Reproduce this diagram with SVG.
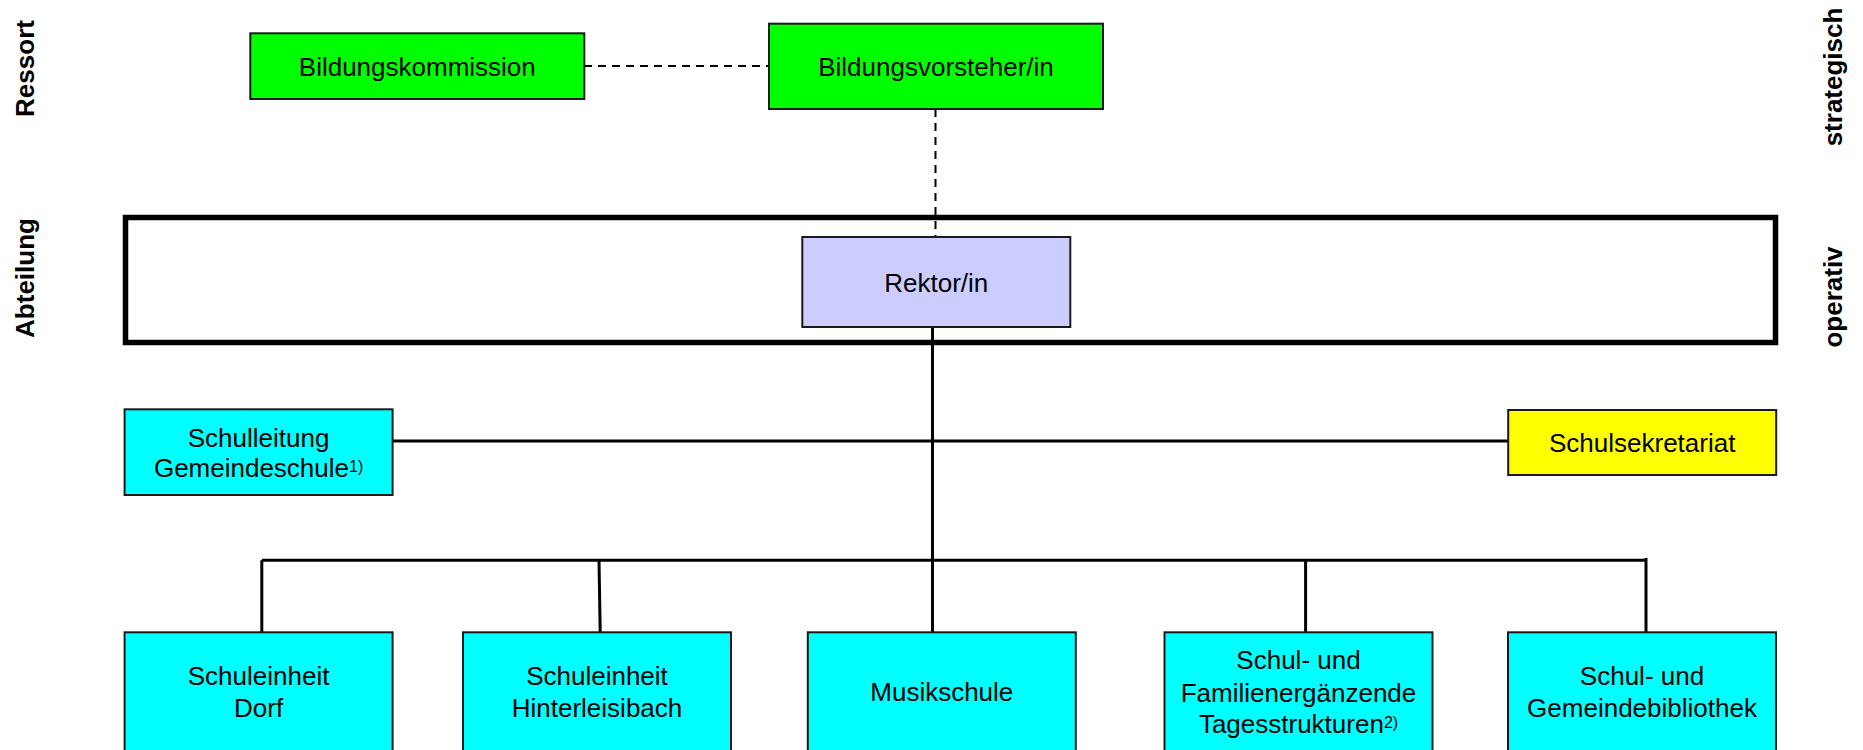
<svg xmlns="http://www.w3.org/2000/svg" width="1863" height="750" viewBox="0 0 1863 750">
<style>
.box{stroke:#1a1a1a;stroke-width:2}
.green{fill:#00ff00}
.cyan{fill:#00ffff}
.yellow{fill:#ffff00}
.lav{fill:#ccccff}
.t{font-family:"Liberation Sans",Arial,sans-serif;font-size:26px;fill:#000;text-anchor:middle}
.side{font-family:"Liberation Sans",Arial,sans-serif;font-size:26px;font-weight:bold;fill:#000;text-anchor:middle}
.sup{font-size:16px}
.line{stroke:#000;stroke-width:3;fill:none}
.dash{stroke:#000;stroke-width:2;fill:none;stroke-dasharray:8 6}
</style>
<rect width="1863" height="750" fill="#fff"/>
<g id="side-labels">
<text class="side" transform="translate(34,68.5) rotate(-90)">Ressort</text>
<text class="side" transform="translate(34,278) rotate(-90)">Abteilung</text>
<text class="side" transform="translate(1842,77) rotate(-90)">strategisch</text>
<text class="side" transform="translate(1842,297) rotate(-90)">operativ</text>
</g>
<g id="abteilung-frame">
<rect x="125.5" y="217.5" width="1650" height="125" fill="none" stroke="#000" stroke-width="5.5"/>
</g>
<g id="connectors">
<line class="dash" x1="584" y1="66" x2="769" y2="66"/>
<line class="dash" x1="935.5" y1="109" x2="935.5" y2="237"/>
<line class="line" x1="932.5" y1="327" x2="932.5" y2="632"/>
<line class="line" x1="392.5" y1="441" x2="1508" y2="441"/>
<line class="line" x1="261.8" y1="560.3" x2="1646" y2="560.3"/>
<line class="line" x1="261.8" y1="560.3" x2="261.8" y2="632"/>
<line class="line" x1="599" y1="560.3" x2="600.2" y2="632"/>
<line class="line" x1="1305.6" y1="560.3" x2="1305.6" y2="632"/>
<line class="line" x1="1646" y1="558" x2="1646" y2="632"/>
</g>
<g id="bildungskommission">
<rect class="box green" x="250.3" y="33.3" width="334" height="65.7"/>
<text class="t" x="417.3" y="76">Bildungskommission</text>
</g>
<g id="bildungsvorsteher">
<rect class="box green" x="769" y="23.7" width="334" height="85.3"/>
<text class="t" x="936" y="76">Bildungsvorsteher/in</text>
</g>
<g id="rektor">
<rect class="box lav" x="802.3" y="237" width="268" height="90"/>
<text class="t" x="936.3" y="292">Rektor/in</text>
</g>
<g id="schulleitung">
<rect class="box cyan" x="124.6" y="409.3" width="268" height="85.7"/>
<text class="t" x="258.6" y="447.3">Schulleitung</text>
<text class="t" x="258.6" y="477.3">Gemeindeschule<tspan class="sup" dy="-5">1)</tspan></text>
</g>
<g id="schulsekretariat">
<rect class="box yellow" x="1508.2" y="410" width="268" height="65"/>
<text class="t" x="1642.2" y="451.7">Schulsekretariat</text>
</g>
<g id="schuleinheit-dorf">
<rect class="box cyan" x="124.6" y="632.3" width="268" height="140"/>
<text class="t" x="258.6" y="685">Schuleinheit</text>
<text class="t" x="258.6" y="717.3">Dorf</text>
</g>
<g id="schuleinheit-hinterleisibach">
<rect class="box cyan" x="463" y="632.3" width="268" height="140"/>
<text class="t" x="597" y="685">Schuleinheit</text>
<text class="t" x="597" y="717.3">Hinterleisibach</text>
</g>
<g id="musikschule">
<rect class="box cyan" x="807.8" y="632.3" width="268" height="140"/>
<text class="t" x="941.8" y="700.7">Musikschule</text>
</g>
<g id="tagesstrukturen">
<rect class="box cyan" x="1164.5" y="632.3" width="268" height="140"/>
<text class="t" x="1298.5" y="669.3">Schul- und</text>
<text class="t" x="1298.5" y="701.7">Familienergänzende</text>
<text class="t" x="1298.5" y="733.3">Tagesstrukturen<tspan class="sup" dy="-5">2)</tspan></text>
</g>
<g id="bibliothek">
<rect class="box cyan" x="1508" y="632.3" width="268" height="140"/>
<text class="t" x="1642" y="685">Schul- und</text>
<text class="t" x="1642" y="717.3">Gemeindebibliothek</text>
</g>
</svg>
